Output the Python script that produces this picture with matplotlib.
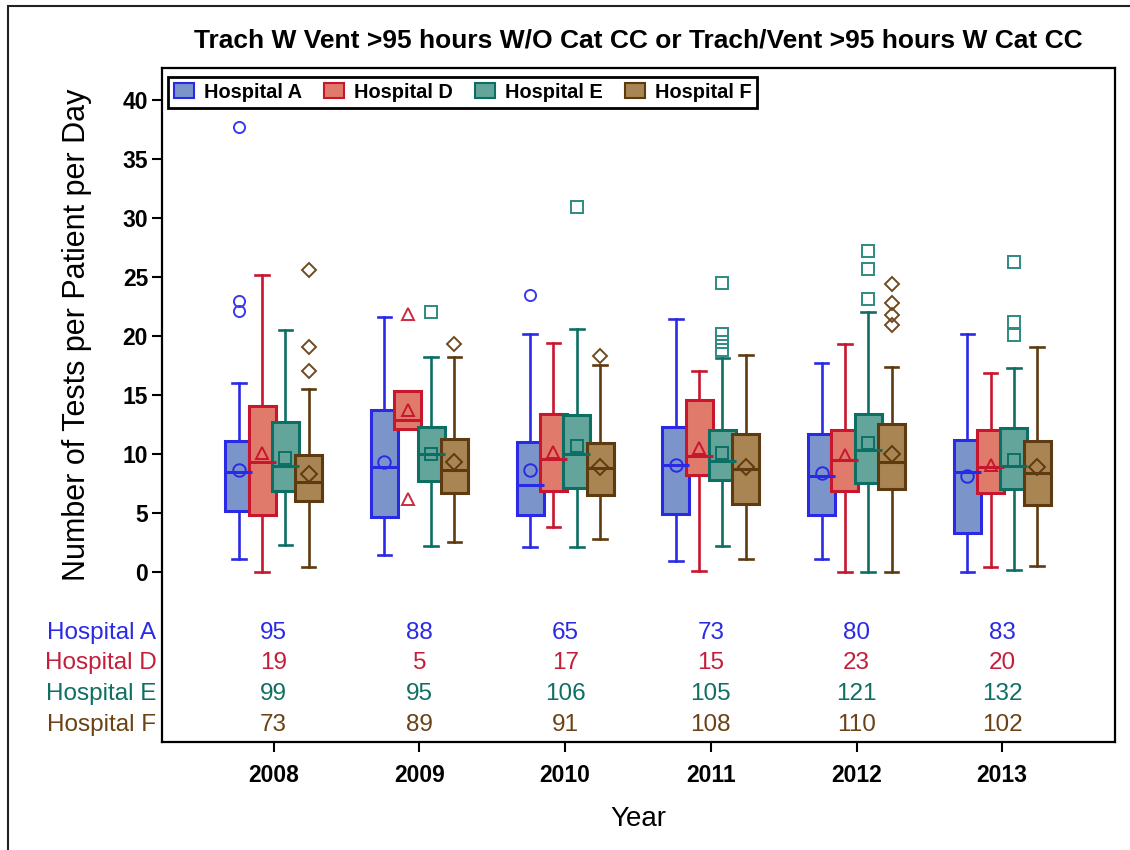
import matplotlib
matplotlib.use('Agg')
import matplotlib.pyplot as plt
from matplotlib.patches import Patch, Rectangle

plt.rcParams['font.family'] = ['Liberation Sans', 'DejaVu Sans']

years = ['2008', '2009', '2010', '2011', '2012', '2013']
hospitals = ['Hospital A', 'Hospital D', 'Hospital E', 'Hospital F']

# each row: whisker low, Q1, median, Q3, whisker high, mean
hosp_a = [[1.1, 5.2, 8.5, 11.1, 16.0, 8.6],
          [1.4, 4.7, 8.9, 13.7, 21.6, 9.3],
          [2.1, 4.8, 7.4, 11.0, 20.2, 8.6],
          [0.9, 4.9, 9.1, 12.3, 21.4, 9.1],
          [1.1, 4.8, 8.1, 11.7, 17.7, 8.4],
          [0.0, 3.3, 8.5, 11.2, 20.2, 8.1]]
hosp_d = [[0.0, 4.8, 9.3, 14.1, 25.2, 10.1],
          [12.1, 12.1, 12.9, 15.3, 15.3, 13.7],
          [3.8, 6.9, 9.6, 13.4, 19.4, 10.2],
          [0.1, 8.2, 9.8, 14.6, 17.0, 10.5],
          [0.0, 6.9, 9.5, 12.0, 19.3, 9.9],
          [0.4, 6.7, 8.9, 12.0, 16.9, 9.1]]
hosp_e = [[2.3, 6.9, 9.0, 12.7, 20.5, 9.7],
          [2.2, 7.7, 10.0, 12.3, 18.2, 10.0],
          [2.1, 7.1, 10.0, 13.3, 20.6, 10.7],
          [2.2, 7.8, 9.4, 12.0, 18.1, 10.1],
          [0.0, 7.5, 10.3, 13.4, 22.0, 10.9],
          [0.2, 7.0, 9.0, 12.2, 17.3, 9.5]]
hosp_f = [[0.4, 6.0, 7.6, 9.9, 15.5, 8.3],
          [2.5, 6.7, 8.6, 11.3, 18.2, 9.3],
          [2.8, 6.5, 8.8, 10.9, 17.5, 8.9],
          [1.1, 5.8, 8.7, 11.7, 18.4, 8.9],
          [0.0, 7.0, 9.3, 12.5, 17.4, 10.0],
          [0.5, 5.7, 8.4, 11.1, 19.1, 8.9]]

out_a = [[37.7, 23.0, 22.1], [], [23.5], [], [], []]
out_d = [[], [21.9, 6.2], [], [], [], []]
out_e = [[], [22.0], [30.9], [24.5, 20.2, 19.5, 18.8], [27.2, 25.7, 23.1], [26.3, 21.2, 20.1]]
out_f = [[25.6, 19.1, 17.0], [19.3], [18.3], [], [24.4, 22.8, 21.8, 20.9], []]

counts_a = [95, 88, 65, 73, 80, 83]
counts_d = [19, 5, 17, 15, 23, 20]
counts_e = [99, 95, 106, 105, 121, 132]
counts_f = [73, 89, 91, 108, 110, 102]

edge_cols = ['#2a2ae6', '#c8162e', '#0d6f64', '#5e3a10']
fill_cols = ['#7b95cb', '#e07b6b', '#64a59b', '#a88552']
flier_cols = ['#3a3aea', '#cc2a3e', '#2f8a80', '#6e4a20']
text_cols = ['#2a2ae6', '#c41e3a', '#0f6f63', '#6b4214']
markers = ['o', '^', 's', 'D']

fig = plt.figure(figsize=(11.3, 8.5), dpi=100)
ax = fig.add_axes([162/1130, 1-742/850, (1115-162)/1130, (742-68)/850])

# border around the whole picture
fig.patches.append(Rectangle((8/1130, -0.1), 1.2, 1-6/850+0.1, transform=fig.transFigure,
                             fill=False, edgecolor='#222222', linewidth=1.5))

offsets = [-0.24, -0.08, 0.08, 0.24]
all_stats = [hosp_a, hosp_d, hosp_e, hosp_f]
all_out = [out_a, out_d, out_e, out_f]

for j in range(4):
    stats = []
    for i in range(len(years)):
        lo, q1, med, q3, hi, mean = all_stats[j][i]
        stats.append(dict(whislo=lo, q1=q1, med=med, q3=q3, whishi=hi,
                          mean=mean, fliers=all_out[j][i]))
    ec = edge_cols[j]
    mk = markers[j]
    ms = 9 if mk != 'D' else 8
    ax.bxp(stats, positions=[i + offsets[j] for i in range(len(years))],
           widths=0.185, patch_artist=True, showmeans=True, manage_ticks=False,
           boxprops=dict(facecolor=fill_cols[j], edgecolor=ec, linewidth=2.2),
           medianprops=dict(color=ec, linewidth=2.2),
           whiskerprops=dict(color=ec, linewidth=1.9),
           capprops=dict(color=ec, linewidth=1.9),
           meanprops=dict(marker=mk, markerfacecolor='none', markeredgecolor=ec,
                          markersize=ms, markeredgewidth=1.4),
           flierprops=dict(marker=mk, markerfacecolor='none', markeredgecolor=flier_cols[j],
                           markersize=ms - 1, markeredgewidth=1.4))

ax.set_xlim(-0.767, 5.774)
ax.set_ylim(-14.41, 42.71)
ax.set_yticks(range(0, 41, 5))
ax.set_xticks(range(len(years)))
ax.set_xticklabels(years)
for lab in ax.get_xticklabels() + ax.get_yticklabels():
    lab.set_fontweight('bold')
    lab.set_fontsize(16.5)
ax.tick_params(axis='both', direction='out', length=7, width=1.5, pad=3)
ax.tick_params(axis='x', pad=9)
for sp in ax.spines.values():
    sp.set_linewidth(1.6)

# counts table inside the frame
all_counts = [counts_a, counts_d, counts_e, counts_f]
rows_y = [-5.2, -7.75, -10.35, -12.95]
for j in range(4):
    ax.text(-0.006, rows_y[j], hospitals[j], transform=ax.get_yaxis_transform(),
            ha='right', va='center', color=text_cols[j], fontsize=17.5)
    for i, c in enumerate(all_counts[j]):
        ax.text(i, rows_y[j], str(c), ha='center', va='center',
                color=text_cols[j], fontsize=17.5)

ax.set_ylabel('Number of Tests per Patient per Day', fontsize=22)
ax.yaxis.set_label_coords(-0.073, 0.604)
ax.set_xlabel('Year', fontsize=20)
ax.xaxis.set_label_coords(0.5, -0.114)
ax.xaxis.label.set_va('center')
fig.text(638.5/1130, 1-41/850,
         'Trach W Vent >95 hours W/O Cat CC or Trach/Vent >95 hours W Cat CC',
         ha='center', va='center', fontsize=19, fontweight='bold')

handles = [Patch(facecolor=fill_cols[j], edgecolor=edge_cols[j], linewidth=1.5)
           for j in range(4)]
leg = ax.legend(handles, hospitals, loc='upper left', ncol=4, bbox_to_anchor=(0.004, 0.99),
                prop={'weight': 'bold', 'size': 14.4}, handlelength=1.0, handleheight=0.8,
                handletextpad=0.5, columnspacing=1.1, borderpad=0.3, borderaxespad=0.1,
                fancybox=False, framealpha=1)
leg.get_frame().set_edgecolor('black')
leg.get_frame().set_linewidth(2)

fig.savefig('out.png', dpi=100)
